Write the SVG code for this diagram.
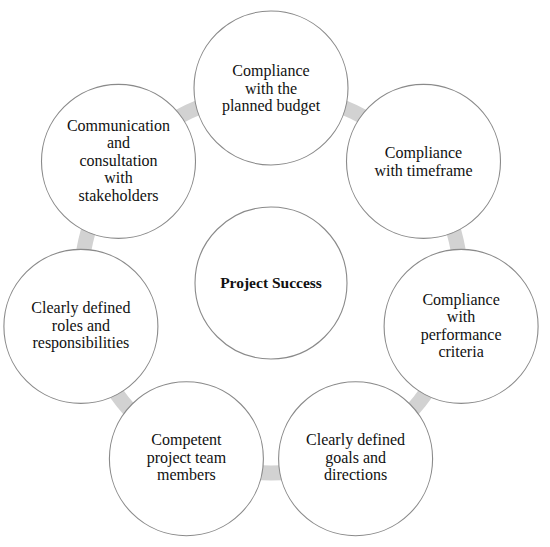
<svg xmlns="http://www.w3.org/2000/svg" width="550" height="547" viewBox="0 0 550 547">
<style>
.link{fill:none;stroke:#d2d2d2;stroke-width:15}
.node{fill:#ffffff;stroke:#8a8a8a;stroke-width:1.1}
.t{font-family:"Liberation Serif","Times New Roman",serif;font-size:16px;fill:#111;text-anchor:middle}
.b{font-weight:bold;font-size:15.5px}
</style>
<rect width="550" height="547" fill="#ffffff"/>
<g id="connectors">
<path class="link" d="M271 93 A190 190 0 0 1 419.54 164.53"/>
<path class="link" d="M419.54 164.53 A190 190 0 0 1 456.23 325.28"/>
<path class="link" d="M456.23 325.28 A190 190 0 0 1 353.44 454.19"/>
<path class="link" d="M353.44 454.19 A190 190 0 0 1 188.56 454.19"/>
<path class="link" d="M188.56 454.19 A190 190 0 0 1 85.77 325.28"/>
<path class="link" d="M85.77 325.28 A190 190 0 0 1 122.46 164.53"/>
<path class="link" d="M122.46 164.53 A190 190 0 0 1 271 93"/>
</g>
<g id="center">
<circle class="node" cx="271" cy="283" r="76"/>
<text class="t b" x="271" y="287.5">Project Success</text>
</g>
<g id="budget">
<circle class="node" cx="271" cy="88" r="77"/>
<text class="t" x="271" y="76">Compliance</text>
<text class="t" x="271" y="93.5">with the</text>
<text class="t" x="271" y="111">planned budget</text>
</g>
<g id="timeframe">
<circle class="node" cx="423.5" cy="161.4" r="77"/>
<text class="t" x="423.5" y="158.3">Compliance</text>
<text class="t" x="423.5" y="175.7">with timeframe</text>
</g>
<g id="performance">
<circle class="node" cx="461.1" cy="326.4" r="77"/>
<text class="t" x="461.1" y="305">Compliance</text>
<text class="t" x="461.1" y="322.4">with</text>
<text class="t" x="461.1" y="339.8">performance</text>
<text class="t" x="461.1" y="357.2">criteria</text>
</g>
<g id="goals">
<circle class="node" cx="355.6" cy="458.7" r="77"/>
<text class="t" x="355.6" y="445">Clearly defined</text>
<text class="t" x="355.6" y="462.6">goals and</text>
<text class="t" x="355.6" y="480.2">directions</text>
</g>
<g id="team">
<circle class="node" cx="186.4" cy="458.7" r="77"/>
<text class="t" x="186.4" y="445">Competent</text>
<text class="t" x="186.4" y="462.6">project team</text>
<text class="t" x="186.4" y="480.2">members</text>
</g>
<g id="roles">
<circle class="node" cx="80.9" cy="326.4" r="77"/>
<text class="t" x="80.9" y="313.3">Clearly defined</text>
<text class="t" x="80.9" y="330.8">roles and</text>
<text class="t" x="80.9" y="348.3">responsibilities</text>
</g>
<g id="communication">
<circle class="node" cx="118.5" cy="161.4" r="77"/>
<text class="t" x="118.5" y="130.7">Communication</text>
<text class="t" x="118.5" y="148.2">and</text>
<text class="t" x="118.5" y="165.7">consultation</text>
<text class="t" x="118.5" y="183.2">with</text>
<text class="t" x="118.5" y="200.7">stakeholders</text>
</g>
</svg>
